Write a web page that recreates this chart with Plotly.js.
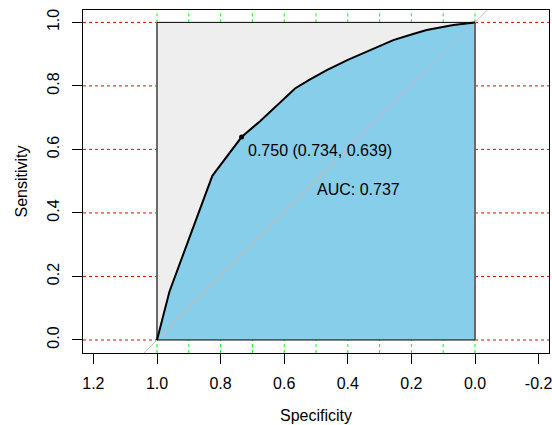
<!DOCTYPE html>
<html>
<head>
<meta charset="utf-8">
<script src="https://cdn.plot.ly/plotly-3.0.1.min.js"></script>
<style>html,body{margin:0;padding:0;background:#fff;}#chart{width:552px;height:425px;}</style>
</head>
<body>
<div id="chart"></div>
<script>
// ROC curve (specificity, sensitivity)
var specificity = [1.0, 0.961, 0.826, 0.734, 0.676, 0.566, 0.52, 0.466, 0.40, 0.330, 0.257, 0.20, 0.152, 0.068, 0.005, 0.0];
var sensitivity = [0.0, 0.152, 0.517, 0.639, 0.689, 0.792, 0.82, 0.850, 0.882, 0.913, 0.944, 0.962, 0.976, 0.992, 1.0, 1.0];
// best threshold
var bestThreshold = 0.750;
var bestSpec = 0.734;
var bestSens = 0.639;
var aucValue = 0.737;
// axis ticks
var xTickVals = [1.2, 1.0, 0.8, 0.6, 0.4, 0.2, 0.0, -0.2];
var xTickText = ["1.2", "1.0", "0.8", "0.6", "0.4", "0.2", "0.0", "-0.2"];
var yTickVals = [0.0, 0.2, 0.4, 0.6, 0.8, 1.0];
var yTickText = ["0.0", "0.2", "0.4", "0.6", "0.8", "1.0"];
// grid positions
var gridX = [0.0, 0.1, 0.2, 0.3, 0.4, 0.5, 0.6, 0.7, 0.8, 0.9, 1.0];
var gridY = [0.0, 0.2, 0.4, 0.6, 0.8, 1.0];

var xRange = [1.2327, -0.2327];
var yRange = [-0.041, 1.039];

// grid is hidden by the filled polygons inside the unit box, so draw only the visible parts
var shapes = [];
gridY.forEach(function (g) {
  shapes.push({type: 'line', xref: 'x', yref: 'y', x0: xRange[0], x1: 1, y0: g, y1: g, layer: 'below',
    line: {color: '#FF0000', width: 1, dash: 'dot'}});
  shapes.push({type: 'line', xref: 'x', yref: 'y', x0: 0, x1: xRange[1], y0: g, y1: g, layer: 'below',
    line: {color: '#FF0000', width: 1, dash: 'dot'}});
});
gridX.forEach(function (g) {
  shapes.push({type: 'line', xref: 'x', yref: 'y', x0: g, x1: g, y0: yRange[0], y1: 0, layer: 'below',
    line: {color: '#00FF00', width: 1, dash: 'dot'}});
  shapes.push({type: 'line', xref: 'x', yref: 'y', x0: g, x1: g, y0: 1, y1: yRange[1], layer: 'below',
    line: {color: '#00FF00', width: 1, dash: 'dot'}});
});

var traces = [];
// max AUC polygon (fill)
traces.push({x: [1, 0, 0, 1, 1], y: [0, 0, 1, 1, 0], mode: 'lines', fill: 'toself', fillcolor: '#EEEEEE',
  line: {color: 'rgba(0,0,0,0)', width: 0}, hoverinfo: 'skip', showlegend: false});
// AUC polygon
var px = specificity.concat([0, 1]);
var py = sensitivity.concat([0, 0]);
traces.push({x: px, y: py, mode: 'lines', fill: 'toself', fillcolor: '#87CEEB',
  line: {color: 'rgba(0,0,0,0)', width: 0}, hoverinfo: 'skip', showlegend: false});
// box edges
traces.push({x: [1, 1, null, 0, 0], y: [0, 1, null, 0, 1], mode: 'lines',
  line: {color: '#6A6A6A', width: 2}, hoverinfo: 'skip', showlegend: false});
traces.push({x: [1, 0, null, 1, 0], y: [0, 0, null, 1, 1], mode: 'lines',
  line: {color: '#000000', width: 1}, hoverinfo: 'skip', showlegend: false});
// diagonal
traces.push({x: [xRange[0], xRange[1]], y: [1 - xRange[0], 1 - xRange[1]], mode: 'lines',
  line: {color: '#BEBEBE', width: 1}, hoverinfo: 'skip', showlegend: false});
// ROC curve
traces.push({x: specificity, y: sensitivity, mode: 'lines', line: {color: '#000000', width: 2}, hoverinfo: 'skip', showlegend: false});
// threshold point
traces.push({x: [bestSpec], y: [bestSens], mode: 'markers', marker: {color: '#000000', size: 5}, hoverinfo: 'skip', showlegend: false});

var font = {family: 'Liberation Sans, Arial, sans-serif', size: 16, color: '#000000'};

var layout = {
  width: 552, height: 425,
  margin: {l: 83, r: 3, t: 10, b: 72, pad: 0},
  paper_bgcolor: '#FFFFFF', plot_bgcolor: '#FFFFFF',
  font: font,
  showlegend: false,
  shapes: shapes,
  xaxis: {
    range: xRange, autorange: false,
    tickmode: 'array', tickvals: xTickVals, ticktext: xTickText,
    ticks: 'outside', ticklen: 10, tickwidth: 1, tickcolor: '#000000',
    ticklabelstandoff: 6, ticklabeloverflow: 'allow',
    showline: true, mirror: true, linecolor: '#000000', linewidth: 1,
    showgrid: false, zeroline: false,
    tickfont: font,
    title: {text: 'Specificity', font: font, standoff: 18}
  },
  yaxis: {
    range: yRange, autorange: false,
    tickmode: 'array', tickvals: yTickVals, ticktext: yTickText,
    ticks: 'outside', ticklen: 10, tickwidth: 1, tickcolor: '#000000',
    tickangle: -90, ticklabelstandoff: 7, ticklabeloverflow: 'allow',
    showline: true, mirror: true, linecolor: '#000000', linewidth: 1,
    showgrid: false, zeroline: false,
    tickfont: font,
    title: {text: 'Sensitivity', font: font, standoff: 12}
  },
  annotations: [
    {x: 0.720, y: 0.598, xref: 'x', yref: 'y', xanchor: 'left', yanchor: 'middle', showarrow: false,
     text: bestThreshold.toFixed(3) + ' (' + bestSpec.toFixed(3) + ', ' + bestSens.toFixed(3) + ')', font: font},
    {x: 0.365, y: 0.474, xref: 'x', yref: 'y', xanchor: 'center', yanchor: 'middle', showarrow: false,
     text: 'AUC: ' + aucValue.toFixed(3), font: font}
  ]
};

Plotly.newPlot('chart', traces, layout, {displayModeBar: false, staticPlot: true});
</script>
</body>
</html>
